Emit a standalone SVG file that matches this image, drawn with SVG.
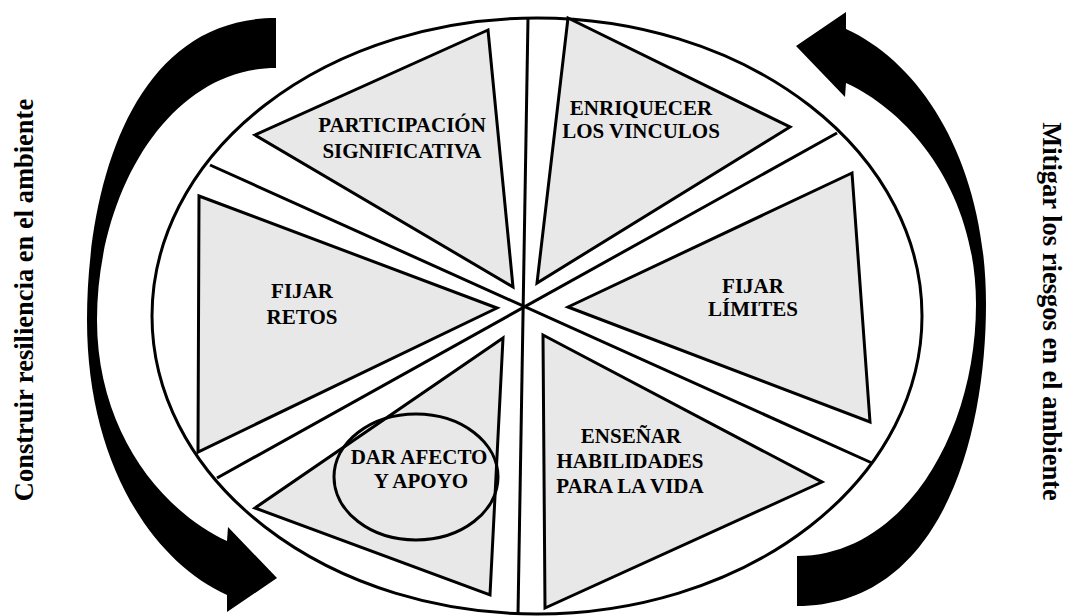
<svg xmlns="http://www.w3.org/2000/svg" width="1067" height="616" viewBox="0 0 1067 616">
<style>
.tri{fill:#e8e8e8;stroke:#000;stroke-width:3;stroke-linejoin:miter}
.lbl{font-family:"Liberation Serif","Times New Roman",serif;font-weight:bold;font-size:21px;fill:#000;text-anchor:middle}
.side{font-family:"Liberation Serif","Times New Roman",serif;font-weight:bold;font-size:26.5px;fill:#000;text-anchor:middle}
.spoke{stroke:#000;stroke-width:3;fill:none}
</style>
<defs>
<path id="arrow" d="M276,18 C130,18 87,190 87,320 C87,460 150,560 227,595 L227,612 L277,578 L228,527 L227,541 C160,510 97,430 97,320 C97,190 170,68 276,68 Z" fill="#000"/>
</defs>
<rect width="1067" height="616" fill="#fff"/>
<g id="arrows">
<use href="#arrow"/>
<use href="#arrow" transform="rotate(180 536.5 312)"/>
</g>
<g id="wheel">
<ellipse cx="537" cy="316" rx="385" ry="298" fill="#fff" stroke="#000" stroke-width="3"/>
</g>
<g id="connectors">
<line class="spoke" x1="528" y1="18" x2="518" y2="614"/>
<line class="spoke" x1="837" y1="133" x2="217" y2="478"/>
<line class="spoke" x1="210" y1="165" x2="872" y2="463"/>
</g>
<g id="participacion">
<polygon class="tri" points="488,30 255,135 513,287"/>
<text class="lbl" x="402" y="132">PARTICIPACIÓN</text>
<text class="lbl" x="402" y="158">SIGNIFICATIVA</text>
</g>
<g id="enriquecer">
<polygon class="tri" points="568,18 790,127 537,283"/>
<text class="lbl" x="641" y="115">ENRIQUECER</text>
<text class="lbl" x="641" y="138">LOS VINCULOS</text>
</g>
<g id="fijar-limites">
<polygon class="tri" points="852,173 568,307 870,422"/>
<text class="lbl" x="753" y="293">FIJAR</text>
<text class="lbl" x="753" y="316">LÍMITES</text>
</g>
<g id="ensenar">
<polygon class="tri" points="543,335 822,482 545,608"/>
<text class="lbl" x="631" y="443">ENSEÑAR</text>
<text class="lbl" x="630" y="468">HABILIDADES</text>
<text class="lbl" x="630" y="493">PARA LA VIDA</text>
</g>
<g id="dar-afecto">
<polygon class="tri" points="503,338 255,508 490,595"/>
<ellipse cx="416" cy="477" rx="82" ry="63" fill="none" stroke="#000" stroke-width="3"/>
<text class="lbl" x="419" y="464">DAR AFECTO</text>
<text class="lbl" x="421" y="488">Y APOYO</text>
</g>
<g id="fijar-retos">
<polygon class="tri" points="199,196 497,308 198,452"/>
<text class="lbl" x="302" y="298">FIJAR</text>
<text class="lbl" x="302" y="324">RETOS</text>
</g>
<g id="side-left">
<text class="side" transform="translate(33,300) rotate(-90)">Construir resiliencia en el ambiente</text>
</g>
<g id="side-right">
<text class="side" transform="translate(1043,311.5) rotate(90)">Mitigar los riesgos en el ambiente</text>
</g>
</svg>
